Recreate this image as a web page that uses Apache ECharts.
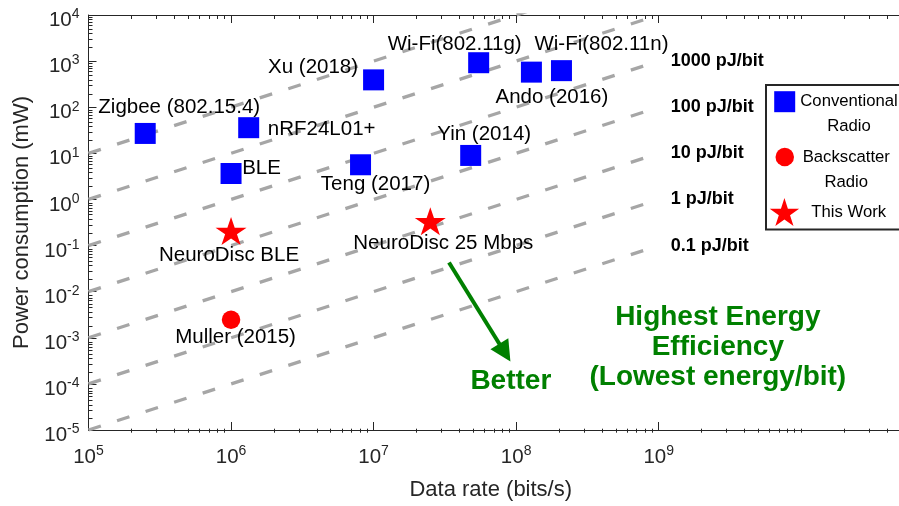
<!DOCTYPE html>
<html><head><meta charset="utf-8">
<script src="https://cdn.jsdelivr.net/npm/echarts@6/dist/echarts.min.js"></script>
<style>html,body{margin:0;padding:0;background:#fff}#c{width:899px;height:506px}</style>
</head><body><div id="c"></div>
<script>
const FONT = '"Liberation Sans", Arial, Helvetica, sans-serif';

// ---- data ----
const conventionalNames = ['Zigbee (802.15.4)', 'nRF24L01+', 'BLE', 'Xu (2018)', 'Wi-Fi(802.11g)', 'Wi-Fi(802.11n)', 'Ando (2016)', 'Yin (2014)', 'Teng (2017)'];
const conventionalRate  = [2.5e5, 1.33e6, 1.0e6, 1.0e7, 5.46e7, 2.08e8, 1.28e8, 4.8e7, 8.1e6];   // bits/s
const conventionalPower = [27, 36, 3.65, 392, 923, 621, 577, 9.0, 5.65];                          // mW

const backscatterNames = ['Muller (2015)'];
const backscatterRate  = [1.0e6];
const backscatterPower = [2.45e-3];

const thisWorkNames = ['NeuroDisc BLE', 'NeuroDisc 25 Mbps'];
const thisWorkRate  = [1.0e6, 2.5e7];
const thisWorkPower = [0.207, 0.337];

// iso-energy guide lines: power at 1e5 and at 1e9 bits/s
const guideRates      = [1e5, 1e9];
const guideStartPower = [10, 1, 0.1, 0.01, 1e-3, 1e-4, 1e-5];
const guideEndPower   = [1e5, 1e4, 1e3, 100, 10, 1, 0.1];
const guideLabels     = ['', '', '1000 pJ/bit', '100 pJ/bit', '10 pJ/bit', '1 pJ/bit', '0.1 pJ/bit'];

// tick labels (powers of ten)
const xTickExps = [5, 6, 7, 8, 9];
const yTickExps = [-5, -4, -3, -2, -1, 0, 1, 2, 3, 4];

// annotations (data coordinates)
const arrowFrom = [3.38e7, 0.043];
const arrowTo   = [8.34e7, 4.75e-4];
const betterAt  = [9.18e7, 1.13e-4];
const highestAt = [2.6e9, 6.1e-4];

// ---- layout helpers (label placement, not data) ----
const conventionalOffsets = [[34,-26],[73,1.5],[30.5,-5.5],[-60.5,-13],[-24,-18.5],[40,-26.5],[20.5,25],[13.5,-21.5],[15,20]];
const backscatterOffsets = [[4.5,17.5]];
const thisWorkOffsets = [[-2,24.5],[13,22.5]];

const lg = Math.log10;
const X_MIN = 5, X_MAX = 10.686, Y_MIN = -5, Y_MAX = 4;
const minorX = [];
for (let n = 5; n <= 10; n++) for (let k = 2; k <= 9; k++) { const v = lg(k * Math.pow(10, n)); if (v <= X_MAX) minorX.push(v); }
minorX.push(10);
const minorY = [];
for (let n = -5; n < 4; n++) for (let k = 2; k <= 9; k++) minorY.push(lg(k * Math.pow(10, n)));

const AX = '#262626';
const STAR = 'path://M0,-50L11.23,-15.45L47.55,-15.45L18.16,5.9L29.39,40.45L0,19.1L-29.39,40.45L-18.16,5.9L-47.55,-15.45L-11.23,-15.45Z';

const tickRich = {
  b: { fontSize: 20.5, lineHeight: 26, fontFamily: FONT, color: AX },
  s: { fontSize: 14, lineHeight: 14, verticalAlign: 'top', fontFamily: FONT, color: AX }
};
const expFmt = v => '{b|10}{s|' + Math.round(v) + '}';

function xAxisDef(grid, pos, ticks, len, line, label) {
  const a = {
    type: 'value', gridIndex: grid, position: pos, min: X_MIN, max: X_MAX,
    axisLine: { show: line, onZero: false, lineStyle: { color: AX, width: 1 } },
    axisTick: { show: true, inside: true, length: len, customValues: ticks, lineStyle: { color: AX, width: 1 } },
    axisLabel: { show: false },
    splitLine: { show: false }, minorTick: { show: false }
  };
  if (label) {
    a.axisLabel = { show: true, customValues: xTickExps, margin: 14, formatter: expFmt, rich: tickRich };
    a.name = 'Data rate (bits/s)';
    a.nameLocation = 'middle';
    a.nameGap = 49;
    a.nameTextStyle = { fontSize: 22, color: AX, fontFamily: FONT, padding: [0, 6, 0, 0] };
  }
  return a;
}
function yAxisDef(grid, ticks, len, line, label) {
  const a = {
    type: 'value', gridIndex: grid, position: 'left', min: Y_MIN, max: Y_MAX,
    axisLine: { show: line, onZero: false, lineStyle: { color: AX, width: 1 } },
    axisTick: { show: true, inside: true, length: len, customValues: ticks, lineStyle: { color: AX, width: 1 } },
    axisLabel: { show: false },
    splitLine: { show: false }, minorTick: { show: false }
  };
  if (label) {
    a.axisLabel = { show: true, customValues: yTickExps, margin: 9, padding: [11, 0, 0, 0], formatter: expFmt, rich: tickRich };
    a.name = 'Power consumption (mW)';
    a.nameLocation = 'middle';
    a.nameGap = 55;
    a.nameTextStyle = { fontSize: 22, color: AX, fontFamily: FONT };
  }
  return a;
}

const gridBox = { left: 88.5, top: 15, right: -6, bottom: 73.3, containLabel: false };

function pts(names, rates, powers, offsets) {
  return names.map((n, i) => ({ name: n, value: [lg(rates[i]), lg(powers[i])], label: { offset: offsets[i] } }));
}
const ptLabel = { show: true, position: 'inside', formatter: '{b}', color: '#000', fontSize: 20.5, fontFamily: FONT, textBorderWidth: 0 };

const series = [];
guideStartPower.forEach((p0, i) => {
  series.push({
    type: 'line', xAxisIndex: 0, yAxisIndex: 0, silent: true, z: 1,
    data: [[lg(guideRates[0]), lg(p0)], [lg(guideRates[1]), lg(guideEndPower[i])]],
    symbol: 'none', clip: true,
    lineStyle: { color: '#a6a6a6', width: 3.3, type: [13, 17], cap: 'butt' },
    endLabel: { show: guideLabels[i] !== '', formatter: guideLabels[i], distance: 12, color: '#000', fontWeight: 'bold', fontSize: 18, fontFamily: FONT },
    emphasis: { disabled: true }
  });
});
series.push({
  name: 'Conventional Radio', type: 'scatter', xAxisIndex: 0, yAxisIndex: 0, z: 3, silent: true,
  symbol: 'rect', symbolSize: 21, itemStyle: { color: '#0000ff', opacity: 1 },
  data: pts(conventionalNames, conventionalRate, conventionalPower, conventionalOffsets),
  label: ptLabel, emphasis: { disabled: true }
});
series.push({
  name: 'Backscatter Radio', type: 'scatter', xAxisIndex: 0, yAxisIndex: 0, z: 3, silent: true,
  symbol: 'circle', symbolSize: 18.5, itemStyle: { color: '#ff0000', opacity: 1 },
  data: pts(backscatterNames, backscatterRate, backscatterPower, backscatterOffsets),
  label: ptLabel, emphasis: { disabled: true },
  markLine: {
    silent: true, symbol: ['none', 'triangle'], symbolSize: 21, animation: false,
    label: { show: false }, emphasis: { disabled: true },
    lineStyle: { color: '#008000', width: 4, type: 'solid', opacity: 1 },
    itemStyle: { color: '#008000', opacity: 1 },
    data: [[{ coord: [lg(arrowFrom[0]), lg(arrowFrom[1])] }, { coord: [lg(arrowTo[0]), lg(arrowTo[1])] }]]
  },
  markPoint: {
    silent: true, symbol: 'circle', symbolSize: 0, animation: false,
    itemStyle: { color: 'rgba(0,0,0,0)' },
    label: { show: true, position: 'inside', color: '#008000', fontWeight: 'bold', fontSize: 28, lineHeight: 30, fontFamily: FONT, align: 'center', textBorderWidth: 0 },
    data: [
      { coord: [lg(betterAt[0]), lg(betterAt[1])], label: { formatter: 'Better' } },
      { coord: [lg(highestAt[0]), lg(highestAt[1])], label: { formatter: 'Highest Energy\nEfficiency\n(Lowest energy/bit)' } }
    ]
  }
});
series.push({
  name: 'This Work', type: 'scatter', xAxisIndex: 0, yAxisIndex: 0, z: 4, silent: true,
  symbol: STAR, symbolSize: [31, 28], itemStyle: { color: '#ff0000', opacity: 1 },
  data: pts(thisWorkNames, thisWorkRate, thisWorkPower, thisWorkOffsets),
  label: ptLabel, emphasis: { disabled: true }
});

const legendText = { 'Conventional Radio': ['Conventional', 'Radio'], 'Backscatter Radio': ['Backscatter', 'Radio'], 'This Work': ['This Work'] };
function legendDef(name, icon, w, h, left, top, textW) {
  const two = legendText[name].length > 1;
  return {
    show: true, orient: 'vertical', left: left, top: top, padding: 0, selectedMode: false,
    itemWidth: w, itemHeight: h, itemStyle: { opacity: 1 },
    data: [{ name: name, icon: icon }],
    formatter: n => legendText[n].map(t => '{a|' + t + '}').join('\n'),
    textStyle: {
      fontFamily: FONT, fontSize: 16.7, color: '#000', padding: two ? [25, 0, 0, 0] : 0,
      rich: { a: { width: textW, align: 'center', lineHeight: 25, fontSize: 16.7, fontFamily: FONT, color: '#000' } }
    }
  };
}

const option = {
  backgroundColor: '#fff',
  animation: false,
  grid: [Object.assign({}, gridBox), Object.assign({}, gridBox)],
  xAxis: [
    xAxisDef(0, 'bottom', xTickExps, 8, true, true),
    xAxisDef(0, 'top', xTickExps, 8, true, false),
    xAxisDef(1, 'bottom', minorX, 4, false, false),
    xAxisDef(1, 'top', minorX, 4, false, false)
  ],
  yAxis: [
    yAxisDef(0, yTickExps, 8, true, true),
    yAxisDef(1, minorY, 4, false, false)
  ],
  legend: [
    legendDef('Conventional Radio', 'rect', 21, 21, 774.2, 91.2, 97.6),
    legendDef('Backscatter Radio', 'circle', 18.5, 18.5, 775.5, 147.7, 94.6),
    legendDef('This Work', STAR, 30, 28, 769.7, 198, 88.6)
  ],
  graphic: [{
    type: 'rect', z: -1, silent: true,
    shape: { x: 766, y: 85, width: 150, height: 144.5 },
    style: { fill: '#fff', stroke: AX, lineWidth: 2 }
  }],
  series: series
};

const chart = echarts.init(document.getElementById('c'), null, { renderer: 'canvas' });
chart.setOption(option);
</script>
</body></html>
